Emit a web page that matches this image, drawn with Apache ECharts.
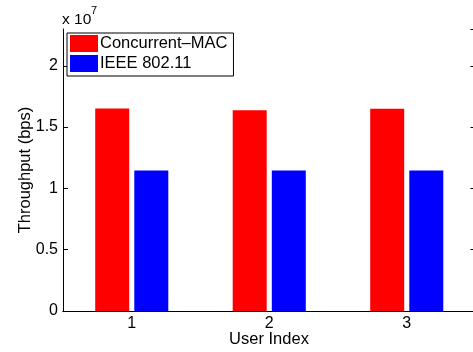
<!DOCTYPE html>
<html>
<head>
<meta charset="utf-8">
<script src="https://cdn.jsdelivr.net/npm/echarts@6/dist/echarts.min.js"></script>
<style>
  html, body { margin: 0; padding: 0; background: #fff; overflow: hidden; }
  #chart { width: 476px; height: 352px; }
</style>
</head>
<body>
<div id="chart"></div>
<script>
// Throughput per user, in bits per second
const users = ['1', '2', '3'];
const concurrentMac = [1.652e7, 1.637e7, 1.650e7];
const ieee80211 = [1.146e7, 1.146e7, 1.146e7];
const seriesNames = ['Concurrent\u2013MAC', 'IEEE 802.11'];

const FONT = 'Liberation Sans, Arial, Helvetica, sans-serif';
const chart = echarts.init(document.getElementById('chart'), null, { renderer: 'canvas' });

const yCommon = {
  type: 'value',
  min: 0,
  max: 2.3e7,
  interval: 5e6,
  splitLine: { show: false },
  axisLine: { show: true, lineStyle: { color: '#000', width: 1 } },
  axisTick: { show: true, inside: true, length: 5, lineStyle: { color: '#000' } }
};

chart.setOption({
  animation: false,
  backgroundColor: '#fff',
  grid: { left: 63, top: 29, right: 0.5, bottom: 41, containLabel: false },
  legend: {
    orient: 'vertical',
    left: 67,
    top: 33,
    padding: [2, 6, 4, 3],
    itemGap: 3,
    itemWidth: 28,
    itemHeight: 17,
    icon: 'rect',
    borderColor: '#000',
    borderWidth: 1,
    backgroundColor: '#fff',
    textStyle: { fontFamily: FONT, fontSize: 16.5, color: '#000', lineHeight: 17, padding: [0, 0, 0, -3] },
    data: seriesNames
  },
  xAxis: [
    {
      type: 'category',
      data: users,
      position: 'bottom',
      boundaryGap: true,
      axisLine: { lineStyle: { color: '#000', width: 1 } },
      axisTick: { inside: true, alignWithLabel: true, length: 5, lineStyle: { color: '#000' } },
      axisLabel: { fontFamily: FONT, fontSize: 16, color: '#000', margin: 5 }
    },
    {
      type: 'category',
      data: users,
      position: 'top',
      boundaryGap: true,
      axisLine: { lineStyle: { color: '#000', width: 1 } },
      axisTick: { inside: true, alignWithLabel: true, length: 5, lineStyle: { color: '#000' } },
      axisLabel: { show: false }
    }
  ],
  yAxis: [
    Object.assign({}, yCommon, {
      position: 'left',
      axisLabel: {
        fontFamily: FONT, fontSize: 16, color: '#000', margin: 5,
        showMaxLabel: false,
        formatter: v => String(+(v / 1e7).toFixed(1))
      }
    }),
    Object.assign({}, yCommon, {
      position: 'right',
      axisLabel: { show: false }
    })
  ],
  series: [
    {
      name: seriesNames[0],
      type: 'bar',
      data: concurrentMac,
      barWidth: 34,
      barGap: '15%',
      itemStyle: { color: '#ff0000' }
    },
    {
      name: seriesNames[1],
      type: 'bar',
      data: ieee80211,
      barWidth: 34,
      barGap: '15%',
      itemStyle: { color: '#0000ff' }
    }
  ],
  graphic: [
    {
      type: 'text', left: 62, top: 12,
      style: { text: 'x 10', fontFamily: FONT, fontSize: 15.5, fill: '#000' }
    },
    {
      type: 'text', left: 91, top: 5,
      style: { text: '7', fontFamily: FONT, fontSize: 11, fill: '#000' }
    },
    {
      type: 'text',
      x: 25, y: 170,
      rotation: Math.PI / 2,
      style: {
        text: 'Throughput (bps)', fontFamily: FONT, fontSize: 16.5, fill: '#000',
        align: 'center', verticalAlign: 'middle'
      }
    },
    {
      type: 'text',
      x: 269, y: 339,
      style: {
        text: 'User Index', fontFamily: FONT, fontSize: 16.5, fill: '#000',
        align: 'center', verticalAlign: 'middle'
      }
    }
  ]
});
</script>
</body>
</html>
